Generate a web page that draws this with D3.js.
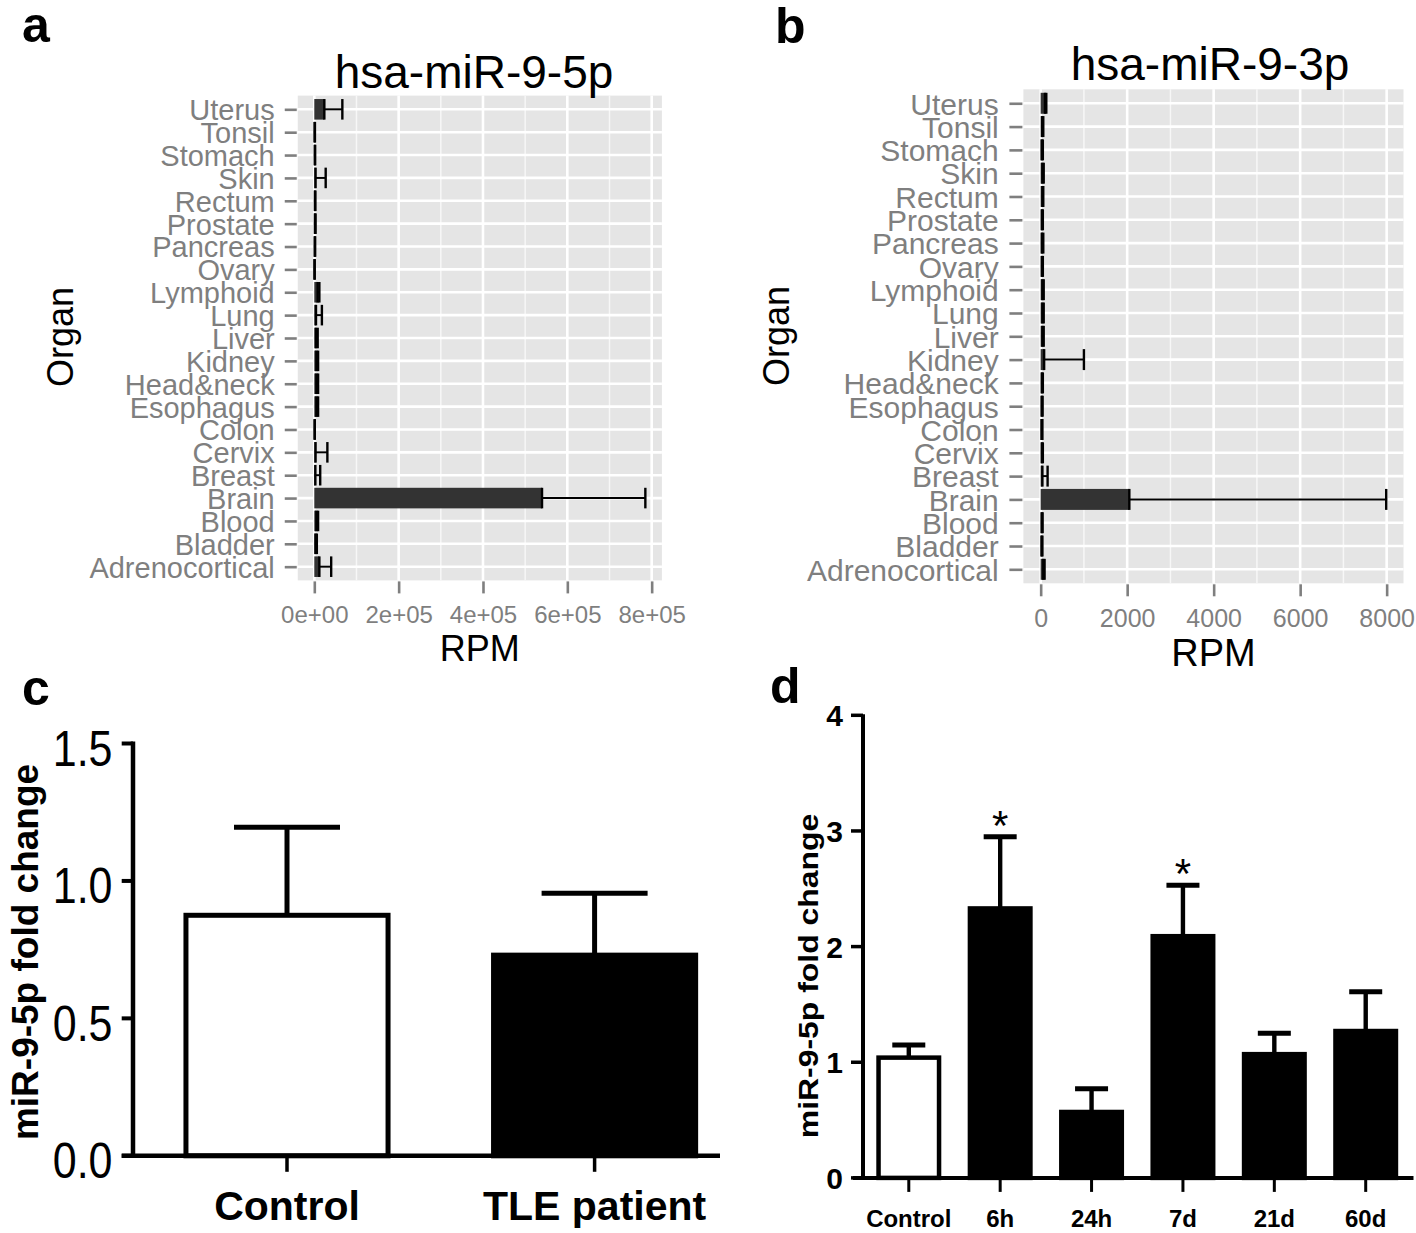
<!DOCTYPE html>
<html><head><meta charset="utf-8">
<script src="https://cdn.jsdelivr.net/npm/d3@7/dist/d3.min.js"></script>
<style>body{margin:0;background:#fff}</style>
</head><body>
<script>
// ---------------- DATA ----------------
const organs = ["Adrenocortical","Bladder","Blood","Brain","Breast","Cervix","Colon","Esophagus","Head&neck","Kidney","Liver","Lung","Lymphoid","Ovary","Pancreas","Prostate","Rectum","Skin","Stomach","Tonsil","Uterus"];
// panel a: hsa-miR-9-5p (RPM)
const aMean  = [12000,3000,5000,540000,2500,3000,800,5000,5000,5000,4000,4000,8000,500,1000,1500,1500,3000,1200,800,23800];
const aUpper = [40000,6000,9000,785000,14000,31000,1200,9000,9000,9000,8000,18000,12000,900,2000,3000,2500,27000,2000,1500,66500];
const aTicks = [0,200000,400000,600000,800000];
const aMinor = [100000,300000,500000,700000];
// panel b: hsa-miR-9-3p (RPM)
const bMean  = [60,20,25,2050,40,30,20,25,30,80,40,40,40,30,30,30,40,40,25,35,100];
const bUpper = [90,40,45,7990,160,50,40,45,50,1000,70,70,70,50,60,50,60,70,50,60,130];
const bTicks = [0,2000,4000,6000,8000];
const bMinor = [1000,3000,5000,7000];
// panel c
const cCats = ["Control","TLE patient"];
const cMean = [0.875,0.73];
const cUpper = [1.195,0.955];
const cTicks = [0,0.5,1.0,1.5];
// panel d
const dCats = ["Control","6h","24h","7d","21d","60d"];
const dMean = [1.04,2.33,0.57,2.09,1.07,1.27];
const dUpper = [1.15,2.95,0.77,2.53,1.25,1.61];
const dSig = [false,true,false,true,false,false];
const dTicks = [0,1,2,3,4];

// ---------------- SETUP ----------------
const W=1416,H=1233;
const FONT="'Liberation Sans', Arial, Helvetica, sans-serif";
const svg=d3.select("body").append("svg").attr("width",W).attr("height",H)
  .style("font-family",FONT);
svg.append("rect").attr("width",W).attr("height",H).attr("fill","#fff");

function sci(v){ if(v===0) return "0e+00"; const e=Math.floor(Math.log10(v)); const m=Math.round(v/Math.pow(10,e)); return m+"e+"+String(e).padStart(2,"0"); }

function organPanel(cfg){
  const g=svg.append("g");
  const maxU=d3.max(cfg.upper);
  const x=d3.scaleLinear().domain([-0.05*maxU,1.05*maxU]).range([cfg.left,cfg.right]);
  const y=d3.scalePoint().domain(organs.slice().reverse()).range([cfg.top,cfg.bottom]).padding(0.6);
  const bh=0.9*y.step();
  g.append("rect").attr("x",cfg.left).attr("y",cfg.top).attr("width",cfg.right-cfg.left).attr("height",cfg.bottom-cfg.top).attr("fill","#E5E5E5");
  g.selectAll(".mn").data(cfg.minor).join("line").attr("x1",d=>x(d)).attr("x2",d=>x(d)).attr("y1",cfg.top).attr("y2",cfg.bottom).attr("stroke","#F7F7F7").attr("stroke-width",1.5);
  g.selectAll(".mj").data(cfg.ticks).join("line").attr("x1",d=>x(d)).attr("x2",d=>x(d)).attr("y1",cfg.top).attr("y2",cfg.bottom).attr("stroke","#fff").attr("stroke-width",2.6);
  g.selectAll(".hg").data(organs).join("line").attr("x1",cfg.left).attr("x2",cfg.right).attr("y1",d=>y(d)).attr("y2",d=>y(d)).attr("stroke","#fff").attr("stroke-width",2.6);
  // bars
  g.selectAll(".bar").data(organs).join("rect").attr("x",x(0)).attr("y",d=>y(d)-bh/2)
    .attr("width",(d,i)=>Math.max(0,x(cfg.mean[i])-x(0))).attr("height",bh).attr("fill","#333333");
  // error bars
  const eg=g.append("g").attr("stroke","#000").attr("fill","none");
  organs.forEach((o,i)=>{
    const yy=y(o), x1=x(cfg.mean[i]), x2=x(cfg.upper[i]);
    eg.append("line").attr("x1",x1).attr("x2",x2).attr("y1",yy).attr("y2",yy).attr("stroke-width",2);
    eg.append("line").attr("x1",x1).attr("x2",x1).attr("y1",yy-bh/2).attr("y2",yy+bh/2).attr("stroke-width",2.4);
    eg.append("line").attr("x1",x2).attr("x2",x2).attr("y1",yy-bh/2).attr("y2",yy+bh/2).attr("stroke-width",2.4);
  });
  // y axis
  const ya=g.append("g").attr("transform",`translate(${cfg.left-1},0)`)
    .call(d3.axisLeft(y).tickSize(cfg.tick).tickPadding(cfg.ypad));
  ya.select(".domain").remove();
  ya.selectAll("line").attr("stroke","#7f7f7f").attr("stroke-width",2.6);
  ya.selectAll("text").attr("fill","#7f7f7f").style("font-size",cfg.lab+"px").attr("dy","0.36em");
  // x axis
  const xa=g.append("g").attr("transform",`translate(0,${cfg.bottom+1})`)
    .call(d3.axisBottom(x).tickValues(cfg.ticks).tickFormat(cfg.fmt).tickSize(12));
  xa.select(".domain").remove();
  xa.selectAll("line").attr("stroke","#7f7f7f").attr("stroke-width",2.6);
  xa.selectAll("text").attr("fill","#7f7f7f").style("font-size",cfg.xlab+"px").attr("dy",null).attr("y",cfg.xbase-cfg.bottom-1);
  // titles
  g.append("text").attr("x",cfg.titleX).attr("y",cfg.titleY).attr("text-anchor","middle").style("font-size","46px").text(cfg.title);
  g.append("text").attr("x",(cfg.left+cfg.right)/2).attr("y",cfg.rpmY).attr("text-anchor","middle").style("font-size",cfg.rpmSize+"px").text("RPM");
  g.append("text").attr("transform",`translate(${cfg.organX},${cfg.organY}) rotate(-90)`).attr("text-anchor","middle").style("font-size",cfg.organSize+"px").text("Organ");
}

organPanel({mean:aMean,upper:aUpper,ticks:aTicks,minor:aMinor,fmt:sci,left:297.75,right:661.9,top:95.6,bottom:580.4,
  tick:12,ypad:10,lab:29,xlab:24,xbase:622.7,title:"hsa-miR-9-5p",titleX:474,titleY:88,rpmY:661,rpmSize:36,organX:73,organY:337,organSize:36});
organPanel({mean:bMean,upper:bUpper,ticks:bTicks,minor:bMinor,fmt:d3.format("d"),left:1023.4,right:1403.5,top:89.3,bottom:583.3,
  tick:13,ypad:10.7,lab:30,xlab:25,xbase:626.7,title:"hsa-miR-9-3p",titleX:1210,titleY:80,rpmY:666,rpmSize:38,organX:789,organY:336,organSize:36});

// panel letters
[["a",22,42],["b",775,43],["c",22,705],["d",770,703]].forEach(([t,x,y])=>
  svg.append("text").attr("x",x).attr("y",y).style("font-size","50px").style("font-weight","bold").text(t));

// ---------------- PANEL C ----------------
(function(){
  const g=svg.append("g");
  const x=d3.scaleBand().domain(cCats).range([133.2,748.4]).paddingInner(0.343).paddingOuter(0.1715);
  const y=d3.scaleLinear().domain([0,1.5]).range([1155.8,743.5]);
  const cx=d=>x(d)+x.bandwidth()/2;
  g.selectAll(".eb").data(cCats).join("line").attr("x1",cx).attr("x2",cx)
    .attr("y1",(d,i)=>y(cMean[i])).attr("y2",(d,i)=>y(cUpper[i])).attr("stroke","#000").attr("stroke-width",5);
  g.selectAll(".cap").data(cCats).join("line").attr("x1",d=>cx(d)-53).attr("x2",d=>cx(d)+53)
    .attr("y1",(d,i)=>y(cUpper[i])).attr("y2",(d,i)=>y(cUpper[i])).attr("stroke","#000").attr("stroke-width",5);
  g.selectAll(".bar").data(cCats).join("rect").attr("x",d=>x(d)).attr("width",x.bandwidth())
    .attr("y",(d,i)=>y(cMean[i])).attr("height",(d,i)=>y(0)-y(cMean[i]))
    .attr("fill",(d,i)=>i===0?"#fff":"#000").attr("stroke","#000").attr("stroke-width",5);
  // axes
  g.append("line").attr("x1",133).attr("x2",133).attr("y1",y(1.5)-2).attr("y2",y(0)+2).attr("stroke","#000").attr("stroke-width",4.5);
  g.append("line").attr("x1",121.7).attr("x2",720).attr("y1",y(0)).attr("y2",y(0)).attr("stroke","#000").attr("stroke-width",4.5);
  g.selectAll(".yt").data(cTicks).join("line").attr("x1",121.7).attr("x2",133).attr("y1",d=>y(d)).attr("y2",d=>y(d)).attr("stroke","#000").attr("stroke-width",4);
  g.selectAll(".yl").data(cTicks).join("text").attr("transform",d=>`translate(112.5,${y(d)+22.5}) scale(0.86,1)`)
    .attr("text-anchor","end").style("font-size","50px").text(d3.format(".1f"));
  g.selectAll(".xt").data(cCats).join("line").attr("x1",cx).attr("x2",cx).attr("y1",y(0)).attr("y2",y(0)+16).attr("stroke","#000").attr("stroke-width",3.5);
  g.selectAll(".xl").data(cCats).join("text").attr("x",cx).attr("y",1220).attr("text-anchor","middle")
    .style("font-size","41px").style("font-weight","bold").text(d=>d);
  g.append("text").attr("transform","translate(38,952) rotate(-90)").attr("text-anchor","middle")
    .style("font-size","37px").style("font-weight","bold").text("miR-9-5p fold change");
})();

// ---------------- PANEL D ----------------
(function(){
  const g=svg.append("g");
  const x=d3.scaleBand().domain(dCats).range([863.1,1411.4]).paddingInner(0.338).paddingOuter(0.169);
  const y=d3.scaleLinear().domain([0,4]).range([1177.9,715.3]);
  const cx=d=>x(d)+x.bandwidth()/2;
  g.selectAll(".eb").data(dCats).join("line").attr("x1",cx).attr("x2",cx)
    .attr("y1",(d,i)=>y(dMean[i])).attr("y2",(d,i)=>y(dUpper[i])).attr("stroke","#000").attr("stroke-width",4.4);
  g.selectAll(".cap").data(dCats).join("line").attr("x1",d=>cx(d)-16.5).attr("x2",d=>cx(d)+16.5)
    .attr("y1",(d,i)=>y(dUpper[i])).attr("y2",(d,i)=>y(dUpper[i])).attr("stroke","#000").attr("stroke-width",5);
  g.selectAll(".bar").data(dCats).join("rect").attr("x",d=>x(d)).attr("width",x.bandwidth())
    .attr("y",(d,i)=>y(dMean[i])).attr("height",(d,i)=>y(0)-y(dMean[i]))
    .attr("fill",(d,i)=>i===0?"#fff":"#000").attr("stroke","#000").attr("stroke-width",4.5);
  g.selectAll(".star").data(dCats.filter((d,i)=>dSig[i])).join("text")
    .attr("x",cx).attr("y",d=>y(dUpper[dCats.indexOf(d)])+3).attr("text-anchor","middle").style("font-size","42px").text("*");
  g.append("line").attr("x1",863).attr("x2",863).attr("y1",y(4)-1).attr("y2",y(0)+2).attr("stroke","#000").attr("stroke-width",4);
  g.append("line").attr("x1",852.9).attr("x2",1413.5).attr("y1",y(0)).attr("y2",y(0)).attr("stroke","#000").attr("stroke-width",4);
  g.selectAll(".yt").data(dTicks).join("line").attr("x1",851).attr("x2",863).attr("y1",d=>y(d)).attr("y2",d=>y(d)).attr("stroke","#000").attr("stroke-width",3.5);
  g.selectAll(".yl").data(dTicks).join("text").attr("x",843).attr("y",d=>y(d)+11).attr("text-anchor","end")
    .style("font-size","30px").style("font-weight","bold").text(d=>d);
  g.selectAll(".xt").data(dCats).join("line").attr("x1",cx).attr("x2",cx).attr("y1",y(0)).attr("y2",y(0)+14).attr("stroke","#000").attr("stroke-width",3);
  g.selectAll(".xl").data(dCats).join("text").attr("x",cx).attr("y",1227).attr("text-anchor","middle")
    .style("font-size","24px").style("font-weight","bold").text(d=>d);
  g.append("text").attr("transform","translate(818,976) rotate(-90) scale(1.14,1)").attr("text-anchor","middle")
    .style("font-size","28px").style("font-weight","bold").text("miR-9-5p fold change");
})();
</script>
</body></html>
